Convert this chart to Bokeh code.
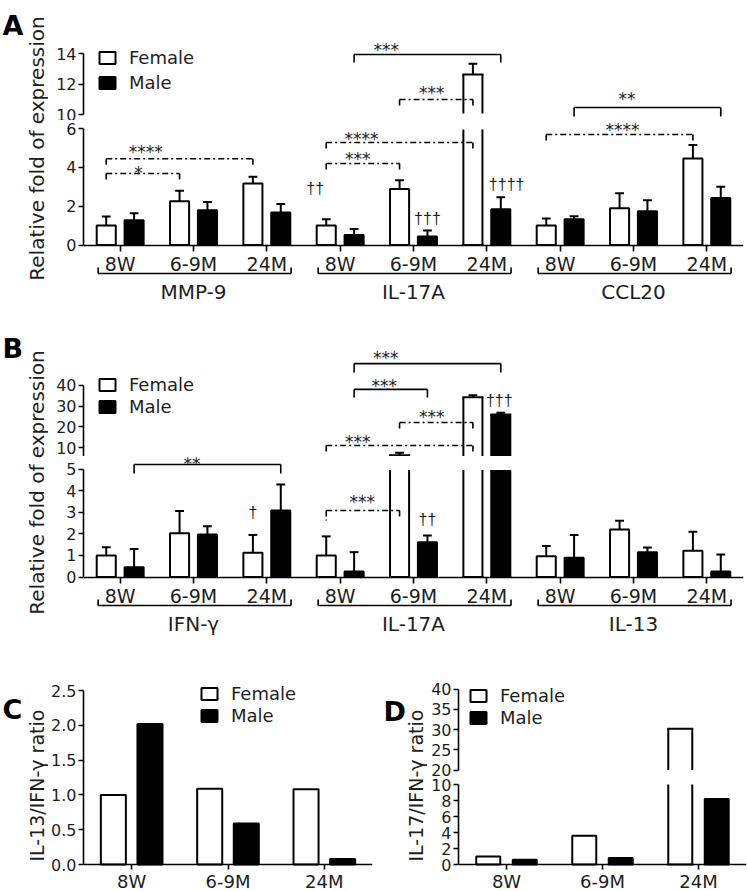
import math
from bokeh.plotting import figure
from bokeh.layouts import row, column
from bokeh.models import (ColumnDataSource, FactorRange, Range1d, CategoricalAxis,
                          FixedTicker, Legend, LegendItem, NumeralTickFormatter,
                          CDSView, IndexFilter)
from bokeh.transform import dodge
from bokeh.core.properties import value
from bokeh.embed import file_html
from bokeh.resources import INLINE

FONT = "DejaVu Sans"
INK = "#1e1e1e"

# ------------------------------------------------------------------ data
ages = ["8W", "6-9M", "24M"]

a_genes = ["MMP-9", "IL-17A", "CCL20"]
a_female = [1.00, 2.25, 3.17, 1.00, 2.88, 12.62, 1.00, 1.89, 4.45]
a_female_err = [0.47, 0.54, 0.34, 0.32, 0.46, 0.70, 0.37, 0.78, 0.70]
a_male = [1.27, 1.79, 1.68, 0.51, 0.44, 1.84, 1.32, 1.74, 2.42]
a_male_err = [0.36, 0.43, 0.43, 0.31, 0.31, 0.62, 0.16, 0.56, 0.58]

b_genes = ["IFN-γ", "IL-17A", "IL-13"]
b_female = [1.00, 2.03, 1.12, 1.00, 6.2, 34.3, 0.96, 2.20, 1.21]
b_female_err = [0.38, 1.02, 0.83, 0.88, 1.3, 1.0, 0.47, 0.40, 0.89]
b_male = [0.45, 1.97, 3.08, 0.25, 1.61, 26.0, 0.89, 1.15, 0.25]
b_male_err = [0.85, 0.38, 1.20, 0.90, 0.31, 0.8, 1.06, 0.22, 0.79]

c_female = [1.00, 1.09, 1.08]   # IL-13/IFN-γ ratio
c_male = [2.02, 0.59, 0.08]
d_female = [1.0, 3.6, 30.2]     # IL-17/IFN-γ ratio
d_male = [0.6, 0.8, 8.2]

# significance brackets: (axis part, sex, gene, from age, to age, level, left leg end, right leg end, style)
a_brackets = [
    ("lo", "F", "MMP-9", "8W", "6-9M", 3.68, 3.22, 3.22, "dashdot"),
    ("lo", "F", "MMP-9", "8W", "24M", 4.44, 4.04, 4.04, "dashdot"),
    ("lo", "F", "IL-17A", "8W", "6-9M", 4.20, 3.73, 3.78, "dashdot"),
    ("lo", "F", "IL-17A", "8W", "24M", 5.28, 4.87, 4.87, "dashdot"),
    ("lo", "F", "CCL20", "8W", "24M", 5.69, 5.33, 5.33, "dashdot"),
    ("hi", "F", "IL-17A", "6-9M", "24M", 10.98, 10.46, 10.46, "dashdot"),
    ("hi", "M", "IL-17A", "8W", "24M", 13.93, 13.41, 13.41, "solid"),
    ("hi", "M", "CCL20", "8W", "24M", 10.46, 9.87, 9.87, "solid"),
]
# significance marks: (axis part, gene, age, offset, level, text)
a_marks = [
    ("lo", "MMP-9", "8W", 0.25, 3.92, "*"),
    ("lo", "MMP-9", "8W", 0.35, 5.00, "****"),
    ("lo", "IL-17A", "8W", -0.34, 2.91, "††"),
    ("lo", "IL-17A", "8W", 0.24, 4.61, "***"),
    ("lo", "IL-17A", "8W", 0.29, 5.67, "****"),
    ("lo", "IL-17A", "6-9M", 0.19, 1.37, "†††"),
    ("lo", "IL-17A", "24M", 0.27, 3.12, "††††"),
    ("lo", "CCL20", "6-9M", -0.15, 6.15, "****"),
    ("hi", "IL-17A", "6-9M", 0.25, 11.64, "***"),
    ("hi", "IL-17A", "8W", 0.63, 14.52, "***"),
    ("hi", "CCL20", "6-9M", -0.09, 11.31, "**"),
]
b_brackets = [
    ("lo", "M", "IFN-γ", "8W", "24M", 5.21, 4.79, 4.79, "solid"),
    ("lo", "F", "IL-17A", "8W", "6-9M", 3.08, 2.62, 2.70, "dashdot"),
    ("hi", "F", "IL-17A", "8W", "24M", 10.97, 7.1, 7.1, "dashdot"),
    ("hi", "F", "IL-17A", "6-9M", "24M", 22.1, 18.2, 18.2, "dashdot"),
    ("hi", "M", "IL-17A", "8W", "6-9M", 38.1, 34.2, 34.2, "solid"),
    ("hi", "M", "IL-17A", "8W", "24M", 50.6, 46.3, 46.3, "solid"),
]
b_marks = [
    ("lo", "IFN-γ", "6-9M", -0.02, 5.42, "**"),
    ("lo", "IFN-γ", "24M", -0.19, 2.99, "†"),
    ("lo", "IL-17A", "8W", 0.30, 3.67, "***"),
    ("lo", "IL-17A", "6-9M", 0.19, 2.66, "††"),
    ("hi", "IL-17A", "8W", 0.24, 14.8, "***"),
    ("hi", "IL-17A", "6-9M", 0.25, 26.9, "***"),
    ("hi", "IL-17A", "8W", 0.60, 41.9, "***"),
    ("hi", "IL-17A", "8W", 0.62, 55.0, "***"),
    ("hi", "IL-17A", "24M", 0.17, 32.7, "†††"),
]

# ------------------------------------------------------------------ helpers
OFF = 0.19      # dodge of female / male bars
BW = 0.26       # bar width
CAP = 0.12      # error cap width
LW = 2


def frame_range(v_ref, px_ref, k, top, bottom):
    """y range of a frame spanning pixels top..bottom, value v_ref at pixel px_ref, k px per unit"""
    return Range1d(start=v_ref - (bottom - px_ref) / k, end=v_ref + (px_ref - top) / k)


def base_fig(w, h, xr, yr, mbl, mbr, mbt, mbb):
    p = figure(width=w, height=h, x_range=xr, y_range=yr, output_backend="svg",
               toolbar_location=None, x_axis_location=None, y_axis_location="left",
               min_border_left=mbl, min_border_right=mbr, min_border_top=mbt,
               min_border_bottom=mbb)
    p.outline_line_color = None
    p.xgrid.visible = False
    p.ygrid.visible = False
    p.background_fill_color = "white"
    p.border_fill_color = "white"
    return p


def style_axis(ax, size="16px"):
    ax.axis_line_width = 1.6
    ax.axis_line_color = "black"
    ax.major_tick_line_width = 1.6
    ax.major_tick_line_color = "black"
    ax.major_tick_out = 5
    ax.major_tick_in = 0
    ax.minor_tick_out = 0
    ax.minor_tick_in = 0
    ax.major_label_text_font = FONT
    ax.major_label_text_font_size = size
    ax.major_label_text_color = INK


def style_y(p, ticks, bounds, fmt=None):
    ax = p.yaxis[0]
    ax.ticker = FixedTicker(ticks=ticks)
    ax.bounds = bounds
    style_axis(ax)
    ax.major_label_standoff = 2
    if fmt:
        ax.formatter = NumeralTickFormatter(format=fmt)


def x_axis(p, tick_out, size, standoff):
    xa = CategoricalAxis(fixed_location=0)
    style_axis(xa, size)
    xa.major_tick_out = tick_out
    xa.major_label_standoff = standoff
    xa.separator_line_color = None
    xa.group_text_font = FONT
    xa.group_text_font_size = "20px"
    xa.group_text_font_style = "normal"
    xa.group_text_color = INK
    p.add_layout(xa, "below")
    return xa


def strip(x0, x1, y0, y1):
    p = figure(width=x1 - x0, height=y1 - y0, x_range=Range1d(x0, x1),
               y_range=Range1d(y1, y0), output_backend="svg", toolbar_location=None,
               x_axis_location=None, y_axis_location=None, min_border=0)
    p.outline_line_color = None
    p.xgrid.visible = False
    p.ygrid.visible = False
    return p


def letter(p, x, y, t):
    p.text(x=[x], y=[y], text=[t], text_font=value(FONT), text_font_style="bold",
           text_font_size="27px", text_align="left", text_baseline="alphabetic",
           text_color="black")


def ytitle(p, x, y, t, size):
    p.text(x=[x], y=[y], text=[t], angle=math.pi / 2, text_font=value(FONT),
           text_font_size=size, text_align="center", text_baseline="middle", text_color=INK)


def source(factors, vals, errs):
    return ColumnDataSource(dict(x=factors, v=vals, hi=[v + e for v, e in zip(vals, errs)]))


def iv(idx):
    return CDSView(filter=IndexFilter(indices=idx))


def errbars(p, src, off, idx):
    X = lambda d: dodge("x", off + d, range=p.x_range)
    p.segment(x0=X(0), y0="v", x1=X(0), y1="hi", source=src, view=iv(idx),
              line_color="black", line_width=LW)
    p.segment(x0=X(-CAP / 2), y0="hi", x1=X(CAP / 2), y1="hi", source=src, view=iv(idx),
              line_color="black", line_width=LW)


def lower_bars(p, src, off, bw, fill, cut=None, err=True):
    """bars from 0; bars taller than `cut` are drawn open-topped up to the axis break"""
    vals = src.data["v"]
    X = lambda d: dodge("x", off + d, range=p.x_range)
    reg = [i for i, v in enumerate(vals) if cut is None or v <= cut]
    brk = [i for i, v in enumerate(vals) if cut is not None and v > cut]
    p.vbar(x=X(0), top="v", width=bw, source=src, view=iv(reg),
           fill_color=fill, line_color="black", line_width=LW)
    if err:
        errbars(p, src, off, reg)
    if brk:
        p.vbar(x=X(0), bottom=0, top=cut, width=bw, source=src, view=iv(brk),
               fill_color=fill, line_color=None)
        for d in (-bw / 2, bw / 2):
            p.segment(x0=X(d), y0=0, x1=X(d), y1=cut, source=src, view=iv(brk),
                      line_color="black", line_width=LW)
        p.segment(x0=X(-bw / 2), y0=0, x1=X(bw / 2), y1=0, source=src, view=iv(brk),
                  line_color="black", line_width=LW, line_cap="square")
    # renderer for the legend only (not drawn in the plot)
    return p.vbar(x=X(0), top="v", width=bw, source=src, visible=False,
                  fill_color=fill, line_color="black", line_width=LW)


def upper_bars(p, src, off, bw, fill, cut, err=True):
    """the part above the axis break of the bars taller than `cut`, open at the bottom"""
    vals = src.data["v"]
    X = lambda d: dodge("x", off + d, range=p.x_range)
    brk = [i for i, v in enumerate(vals) if v > cut]
    p.vbar(x=X(0), bottom=cut, top="v", width=bw, source=src, view=iv(brk),
           fill_color=fill, line_color=None)
    for d in (-bw / 2, bw / 2):
        p.segment(x0=X(d), y0=cut, x1=X(d), y1="v", source=src, view=iv(brk),
                  line_color="black", line_width=LW)
    p.segment(x0=X(-bw / 2), y0="v", x1=X(bw / 2), y1="v", source=src, view=iv(brk),
              line_color="black", line_width=LW, line_cap="square")
    if err:
        errbars(p, src, off, brk)
    return p.vbar(x=X(0), top="v", width=bw, source=src, visible=False,
                  fill_color=fill, line_color="black", line_width=LW)


def brackets(p, items, part):
    for it in items:
        if it[0] != part:
            continue
        _, sex, g, a0, a1, lev, l0, l1, style = it
        f0, f1 = (g, a0), (g, a1)
        s = ColumnDataSource(dict(xa=[f0, f0, f1], xb=[f1, f0, f1],
                                  ya=[lev, lev, lev], yb=[lev, l0, l1]))
        o = -OFF if sex == "F" else OFF
        p.segment(x0=dodge("xa", o, range=p.x_range), y0="ya",
                  x1=dodge("xb", o, range=p.x_range), y1="yb", source=s,
                  line_color="black", line_width=1.6,
                  line_dash="solid" if style == "solid" else "6 3 2 3")


def marks(p, items, part):
    for it in items:
        if it[0] != part:
            continue
        _, g, a, o, lev, t = it
        s = ColumnDataSource(dict(x=[(g, a)], y=[lev], t=[t]))
        star = "*" in t
        p.text(x=dodge("x", o, range=p.x_range), y="y", text="t", source=s,
               text_font=value(FONT if star else "Liberation Sans"),
               text_font_size="17px" if star else "16px",
               text_align="center", text_baseline="middle", text_color=INK,
               y_offset=4 if star else 0)


def add_legend(p, rf, rm, dx, dy, frame_h, spacing):
    item_h = 22
    lh = 2 * item_h + spacing
    lg = Legend(items=[LegendItem(label="Female", renderers=[rf]),
                       LegendItem(label="Male", renderers=[rm])],
                location=(dx, frame_h - dy - lh), orientation="vertical",
                border_line_color=None, background_fill_alpha=0, padding=0, margin=0,
                spacing=spacing, glyph_width=20, glyph_height=15, label_height=item_h,
                label_standoff=12, label_text_font=FONT, label_text_font_size="18px",
                label_text_color=INK)
    p.add_layout(lg)


def gene_brackets(p, genes, k):
    yb, yt = -28.5 / k, -22.5 / k
    for g in genes:
        f0, f1 = (g, "8W"), (g, "24M")
        p.segment(x0=dodge("xa", -0.30, range=p.x_range), y0="ya",
                  x1=dodge("xb", 0.33, range=p.x_range), y1="yb",
                  source=ColumnDataSource(dict(xa=[f0], xb=[f1], ya=[yb], yb=[yb])),
                  line_color="black", line_width=1.6)
        for f, o in ((f0, -0.30), (f1, 0.33)):
            p.segment(x0=dodge("xa", o, range=p.x_range), y0="ya",
                      x1=dodge("xa", o, range=p.x_range), y1="yb",
                      source=ColumnDataSource(dict(xa=[f], ya=[yb], yb=[yt])),
                      line_color="black", line_width=1.6)


def broken_panel(genes, fem, fem_err, mal, mal_err, br, mk, geo):
    factors = [(g, a) for g in genes for a in ages]
    xr = FactorRange(factors=factors, group_padding=0, factor_padding=0)
    up = base_fig(697, geo["up_h"], xr, geo["up_range"], 35, 2, geo["up_mbt"], 0)
    lo = base_fig(697, geo["lo_h"], xr, geo["lo_range"], 35, 2, 0, 0)
    fs, ms = source(factors, fem, fem_err), source(factors, mal, mal_err)
    rf = upper_bars(up, fs, -OFF, BW, "white", geo["hi_cut"])
    rm = upper_bars(up, ms, OFF, BW, "black", geo["hi_cut"])
    lower_bars(lo, fs, -OFF, BW, "white", geo["lo_cut"])
    lower_bars(lo, ms, OFF, BW, "black", geo["lo_cut"])
    brackets(up, br, "hi")
    brackets(lo, br, "lo")
    marks(up, mk, "hi")
    marks(lo, mk, "lo")
    style_y(up, geo["up_ticks"], geo["up_bounds"])
    style_y(lo, geo["lo_ticks"], geo["lo_bounds"])
    x_axis(lo, 6, "19px", 2)
    gene_brackets(lo, genes, geo["k_lo"])
    add_legend(up, rf, rm, 14, geo["leg_dy"], geo["up_frame_h"], geo["leg_sp"])
    return up, lo


# ------------------------------------------------------------------ panel A
geoA = dict(up_h=120, lo_h=185, up_mbt=35,
            up_range=frame_range(10, 114, 15.25, 35, 120),
            lo_range=frame_range(0, 244.5, 19.417, 120, 305),
            k_lo=19.417, hi_cut=10.07, lo_cut=5.95,
            up_ticks=[10, 12, 14], up_bounds=(10, 14),
            lo_ticks=[0, 2, 4, 6], lo_bounds=(0, 6),
            leg_dy=11.5, up_frame_h=85, leg_sp=3)
a_up, a_lo = broken_panel(a_genes, a_female, a_female_err, a_male, a_male_err,
                          a_brackets, a_marks, geoA)
sA = strip(0, 48, 0, 305)
letter(sA, 2, 25, "A")
ytitle(sA, 36, 148, "Relative fold of expression", "20px")

# ------------------------------------------------------------------ panel B
geoB = dict(up_h=151, lo_h=184, up_mbt=35,
            up_range=frame_range(10, 447, 2.067, 340, 456),
            lo_range=frame_range(0, 576.5, 21.6, 456, 640),
            k_lo=21.6, lo_cut=4.95,
            up_ticks=[10, 20, 30, 40], up_bounds=(5.6, 40),
            lo_ticks=[0, 1, 2, 3, 4, 5], lo_bounds=(0, 5),
            leg_dy=33.5, up_frame_h=116, leg_sp=0)
geoB["hi_cut"] = geoB["up_range"].start
b_up, b_lo = broken_panel(b_genes, b_female, b_female_err, b_male, b_male_err,
                          b_brackets, b_marks, geoB)
sB = strip(0, 48, 305, 640)
letter(sB, 2, 348, "B")
ytitle(sB, 36, 482, "Relative fold of expression", "20px")

# ------------------------------------------------------------------ panel C
zeros = [0, 0, 0]
xc = FactorRange(factors=ages)
pc = base_fig(330, 251, xc, frame_range(0, 864, 69.6, 680, 891), 35, 6, 40, 0)
rcf = lower_bars(pc, source(ages, c_female, zeros), -OFF, BW, "white", err=False)
rcm = lower_bars(pc, source(ages, c_male, zeros), OFF, BW, "black", err=False)
style_y(pc, [0, 0.5, 1.0, 1.5, 2.0, 2.5], (0, 2.5), fmt="0.0")
x_axis(pc, 5, "18px", 1)
add_legend(pc, rcf, rcm, 116, 2.5, 211, 0)
sC = strip(0, 48, 640, 891)
letter(sC, 2, 675, "C")
ytitle(sC, 36, 765, "IL-13/IFN-γ ratio", "19px")

# ------------------------------------------------------------------ panel D
xd = FactorRange(factors=ages)
d_up = base_fig(319, 137, xd, frame_range(20, 769.5, 4.05, 680, 777), 30, 1, 40, 0)
d_lo = base_fig(319, 114, xd, frame_range(0, 864, 8.0, 777, 891), 30, 1, 0, 0)
dfs, dms = source(ages, d_female, zeros), source(ages, d_male, zeros)
rdf = upper_bars(d_up, dfs, -OFF, 0.25, "white", 20, err=False)
rdm = upper_bars(d_up, dms, OFF, 0.25, "black", 20, err=False)
lower_bars(d_lo, dfs, -OFF, 0.25, "white", 10, err=False)
lower_bars(d_lo, dms, OFF, 0.25, "black", 10, err=False)
style_y(d_up, [20, 25, 30, 35, 40], (20, 40))
style_y(d_lo, [0, 2, 4, 6, 8, 10], (0, 10))
x_axis(d_lo, 5, "18px", 1)
add_legend(d_up, rdf, rdm, 10, 4.5, 97, 0)
sD = strip(378, 428, 640, 891)
letter(sD, 383, 677, "D")
ytitle(sD, 415, 765, "IL-17/IFN-γ ratio", "19px")

layout = column(
    row(sA, column(a_up, a_lo)),
    row(sB, column(b_up, b_lo)),
    row(sC, pc, sD, column(d_up, d_lo)),
)

open("out.html", "w").write(file_html(layout, INLINE))
